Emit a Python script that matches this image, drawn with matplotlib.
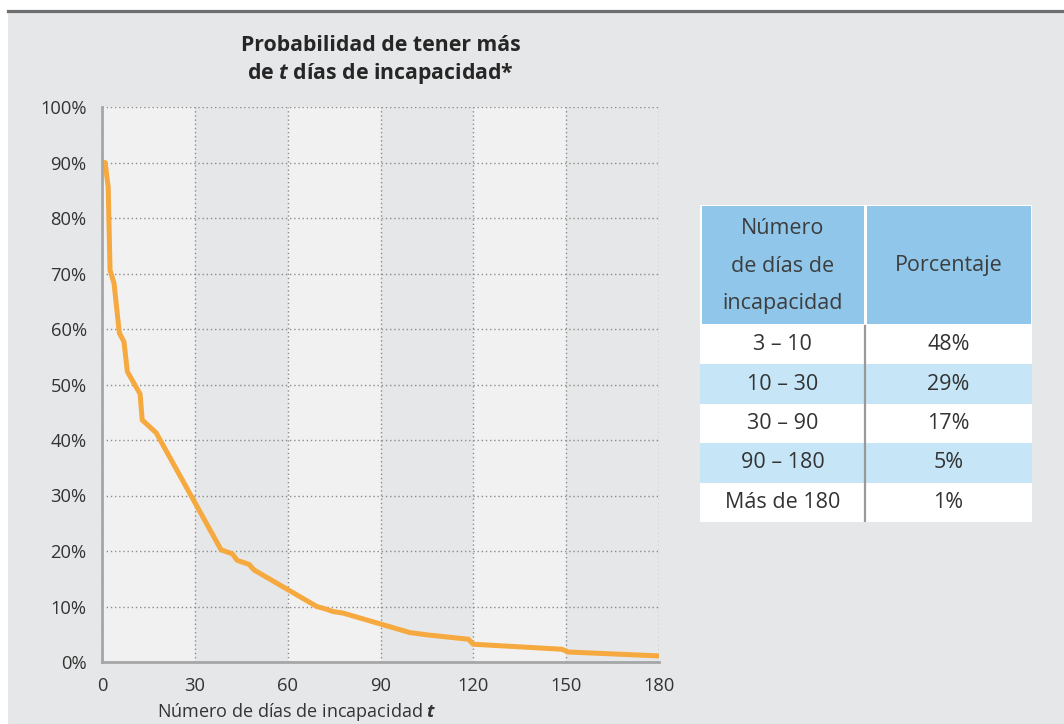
import matplotlib
matplotlib.use("Agg")
import matplotlib.pyplot as plt
from matplotlib.patches import Rectangle
from matplotlib.lines import Line2D

plt.rcParams["font.family"] = ["Open Sans", "DejaVu Sans"]
plt.rcParams["mathtext.fontset"] = "custom"
plt.rcParams["mathtext.rm"] = "Open Sans"
plt.rcParams["mathtext.it"] = "Open Sans:italic:bold"

# --- data ------------------------------------------------------------------
t_days = [1, 2, 2.6, 3.9, 5.6, 7.1, 8.2, 12.3, 13.0, 17.5, 38.5, 42.1, 43.7,
          47.5, 49.1, 69.4, 72.6, 74.6, 78.0, 99.5, 104.9, 118.4, 120.0,
          148.6, 150.7, 179.8]
prob_pct = [90, 85.6, 70.6, 68.2, 59.3, 57.7, 52.3, 48.3, 43.6, 41.3, 20.2,
            19.5, 18.3, 17.6, 16.6, 10.0, 9.5, 9.1, 8.8, 5.3, 4.9, 4.1, 3.2,
            2.3, 1.8, 1.1]

x_ticks = [0, 30, 60, 90, 120, 150, 180]
y_ticks = [0, 10, 20, 30, 40, 50, 60, 70, 80, 90, 100]

table_header = [["Número", "de días de", "incapacidad"], ["Porcentaje"]]
table_ranges = ["3 – 10", "10 – 30", "30 – 90", "90 – 180", "Más de 180"]
table_pct = ["48%", "29%", "17%", "5%", "1%"]

# --- colours ------------------------------------------------------------------
BG = "#e6e7e8"
BAND = "#f1f1f1"
ORANGE = "#f5a93f"
TEXT = "#333333"
HEAD_BLUE = "#8fc6ea"
ROW_BLUE = "#c6e6f8"

W, H = 1064, 724
fig = plt.figure(figsize=(W / 100, H / 100), dpi=100, facecolor="white")

# panel background and top rule
fig.patches.append(Rectangle((8 / W, 0), 1 - 8 / W, 1 - 12 / H,
                             transform=fig.transFigure, facecolor=BG,
                             edgecolor="none", zorder=-10))
fig.lines.append(Line2D([8 / W, 1], [1 - 10.5 / H, 1 - 10.5 / H],
                        transform=fig.transFigure, color="#6d6e70", lw=2.3,
                        zorder=-5))

# --- line chart ---------------------------------------------------------------
ax = fig.add_axes([102 / W, (H - 662) / H, 557 / W, 555 / H])
ax.set_facecolor(BG)
for i in range(0, len(x_ticks) - 1, 2):
    ax.axvspan(x_ticks[i], x_ticks[i + 1], color=BAND, lw=0, zorder=0)

ax.plot(t_days, prob_pct, color=ORANGE, lw=3.6, solid_joinstyle="round",
        solid_capstyle="round", zorder=3)

ax.set_xlim(0, 180)
ax.set_ylim(0, 100)
ax.set_xticks(x_ticks)
ax.set_yticks(y_ticks)
ax.set_yticklabels([f"{v}%" for v in y_ticks])
ax.grid(True, color="#8c8c8c", lw=1, linestyle=(0, (1, 2)), zorder=1)
ax.set_axisbelow(True)
for side in ("top", "right"):
    ax.spines[side].set_visible(False)
for side in ("left", "bottom"):
    ax.spines[side].set_color("#a5a6a8")
    ax.spines[side].set_linewidth(2)
    ax.spines[side].set_zorder(4)
ax.tick_params(length=0, labelsize=13.2, labelcolor=TEXT)
ax.tick_params(axis="y", pad=11)
ax.tick_params(axis="x", pad=11)

ax.set_title("Probabilidad de tener más\nde $\\mathit{t}$ días de incapacidad*",
             fontsize=15.3, fontweight="bold", color="#262626", pad=20,
             linespacing=1.3)
lbl = ax.set_xlabel("Número de días de incapacidad $\\mathit{t}$",
                    fontsize=13, color=TEXT)
ax.xaxis.set_label_coords((297 - 102) / 557, -(712 - 662) / 555)
lbl.set_verticalalignment("center")

# --- table --------------------------------------------------------------------
tx0, ty0, tw, th = 700, 205, 332, 317
tab = fig.add_axes([tx0 / W, (H - ty0 - th) / H, tw / W, th / H])
tab.set_xlim(0, tw)
tab.set_ylim(th, 0)
tab.axis("off")

head_h = 120
row_h = (th - head_h) / len(table_ranges)
col_split = 165

tab.add_patch(Rectangle((0, 0), tw, th, facecolor="white", edgecolor="none"))
tab.add_patch(Rectangle((1.5, 1), col_split - 3, head_h - 2,
                        facecolor=HEAD_BLUE, edgecolor="none"))
tab.add_patch(Rectangle((col_split + 2, 1), tw - col_split - 3.5, head_h - 2,
                        facecolor=HEAD_BLUE, edgecolor="none"))

left_head, right_head = table_header
for k, line in enumerate(left_head):
    tab.text(col_split / 2, 24 + k * 37.5, line, ha="center", va="center",
             fontsize=15.5, color="#3d3d3d")
tab.text((col_split + tw) / 2, 61, right_head[0], ha="center", va="center",
         fontsize=15.5, color="#3d3d3d")

for i, (rng, pct) in enumerate(zip(table_ranges, table_pct)):
    y = head_h + i * row_h
    if i % 2 == 1:
        tab.add_patch(Rectangle((0, y), tw, row_h, facecolor=ROW_BLUE,
                                edgecolor="none"))
    tab.text(col_split / 2, y + row_h / 2, rng, ha="center", va="center",
             fontsize=15.5, color="#333333")
    tab.text((col_split + tw) / 2, y + row_h / 2, pct, ha="center",
             va="center", fontsize=15.5, color="#333333")

tab.plot([col_split, col_split], [head_h + 1, th], color="#999999", lw=1.6)

fig.savefig("out.png", dpi=100, facecolor=fig.get_facecolor())
